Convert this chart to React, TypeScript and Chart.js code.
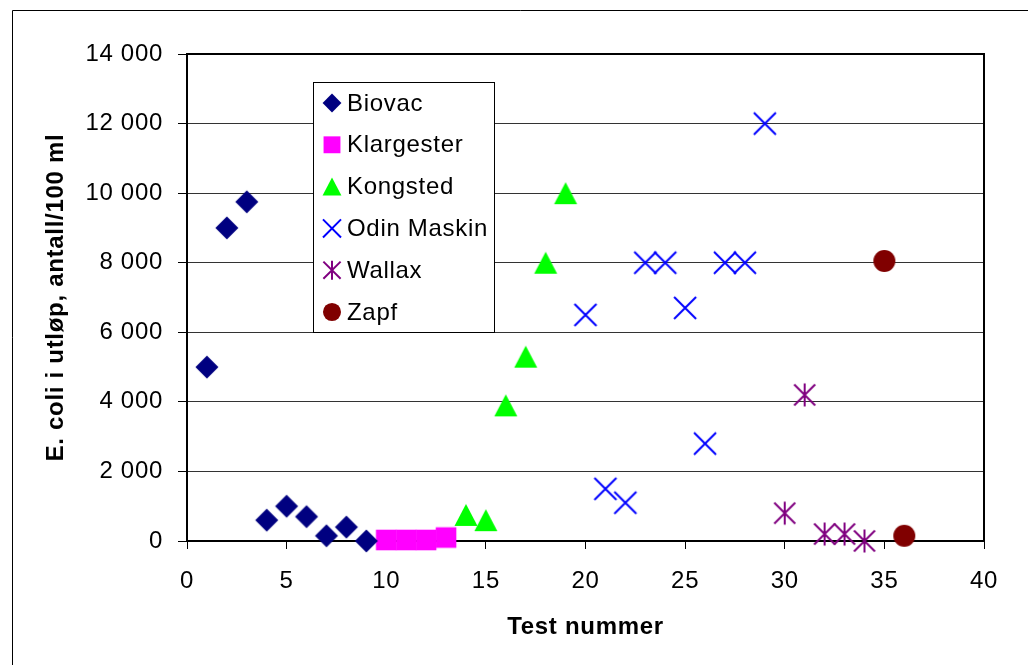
import React, { useEffect, useRef } from 'react';
import { Chart, registerables } from 'chart.js';

Chart.register(...registerables);

// ---- data ----
const seriesNames = ['Biovac', 'Klargester', 'Kongsted', 'Odin Maskin', 'Wallax', 'Zapf'];

const biovacX = [1, 2, 3, 4, 5, 6, 7, 8, 9];
const biovacY = [5000, 9000, 9750, 600, 1000, 700, 150, 400, 0];

const klargesterX = [10, 11, 12, 13];
const klargesterY = [30, 30, 30, 100];

const kongstedX = [14, 15, 16, 17, 18, 19];
const kongstedY = [750, 600, 3900, 5300, 8000, 10000];

const odinX = [20, 21, 22, 23, 24, 25, 26, 27, 28, 29];
const odinY = [6500, 1500, 1100, 8000, 8000, 6700, 2800, 8000, 8000, 12000];

const wallaxX = [30, 31, 32, 33, 34];
const wallaxY = [800, 4200, 200, 200, 0];

const zapfX = [35, 36];
const zapfY = [8050, 150];

const xAxisTitle = 'Test nummer';
const yAxisTitle = 'E. coli i utløp, antall/100 ml';
const xMin = 0, xMax = 40, xStep = 5;
const yMin = 0, yMax = 14000, yStep = 2000;

// ---- styles ----
const FONT = "'Liberation Sans', Arial, sans-serif";
const LETTER_SPACING = '0.7px';
type Shape = 'diamond' | 'square' | 'triangle' | 'x' | 'asterisk' | 'circle';
const shapes: Shape[] = ['diamond', 'square', 'triangle', 'x', 'asterisk', 'circle'];
const colors = ['#000080', '#FF00FF', '#00FF00', '#0000FF', '#800080', '#800000'];

function drawShape(ctx: CanvasRenderingContext2D, shape: Shape, color: string, cx: number, cy: number, k: number) {
  ctx.save();
  ctx.fillStyle = color;
  ctx.strokeStyle = color;
  ctx.lineWidth = 2;
  ctx.beginPath();
  if (shape === 'diamond') {
    const h = 11.5 * k;
    ctx.moveTo(cx, cy - h);
    ctx.lineTo(cx + h, cy);
    ctx.lineTo(cx, cy + h);
    ctx.lineTo(cx - h, cy);
    ctx.closePath();
    ctx.fill();
  } else if (shape === 'square') {
    const h = 10.3 * k;
    ctx.rect(cx - h, cy - h, 2 * h, 2 * h);
    ctx.fill();
  } else if (shape === 'triangle') {
    const w = 11.5 * k, h = 11 * k;
    ctx.moveTo(cx, cy - h);
    ctx.lineTo(cx + w, cy + h);
    ctx.lineTo(cx - w, cy + h);
    ctx.closePath();
    ctx.fill();
  } else if (shape === 'x') {
    const h = 11 * k;
    ctx.moveTo(cx - h, cy - h);
    ctx.lineTo(cx + h, cy + h);
    ctx.moveTo(cx + h, cy - h);
    ctx.lineTo(cx - h, cy + h);
    ctx.stroke();
  } else if (shape === 'asterisk') {
    const h = 10.5 * k;
    ctx.moveTo(cx - h, cy - h);
    ctx.lineTo(cx + h, cy + h);
    ctx.moveTo(cx + h, cy - h);
    ctx.lineTo(cx - h, cy + h);
    ctx.moveTo(cx, cy - 11.5 * k);
    ctx.lineTo(cx, cy + 11.5 * k);
    ctx.stroke();
  } else {
    ctx.arc(cx, cy, 11 * k, 0, Math.PI * 2);
    ctx.fill();
  }
  ctx.restore();
}

function makeMarker(shape: Shape, color: string, k: number): HTMLCanvasElement {
  const c = document.createElement('canvas');
  c.width = 30;
  c.height = 30;
  const ctx = c.getContext('2d')!;
  drawShape(ctx, shape, color, 15, 15, k);
  return c;
}

function fmt(v: number): string {
  return String(v).replace(/\B(?=(\d{3})+(?!\d))/g, ' ');
}

function toPoints(xs: number[], ys: number[]) {
  return xs.map((x, i) => ({ x, y: ys[i] }));
}

const spacingPlugin = {
  id: 'spacing',
  beforeDraw(chart: any) {
    (chart.ctx as any).letterSpacing = LETTER_SPACING;
  },
};

const framePlugin = {
  id: 'frame',
  beforeDatasetsDraw(chart: any) {
    const { ctx, chartArea } = chart;
    ctx.save();
    ctx.strokeStyle = '#000';
    ctx.lineWidth = 2;
    ctx.beginPath();
    ctx.moveTo(chartArea.left, chartArea.top);
    ctx.lineTo(chartArea.right, chartArea.top);
    ctx.lineTo(chartArea.right, chartArea.bottom);
    ctx.stroke();
    ctx.lineWidth = 1;
    ctx.beginPath();
    ctx.moveTo(12.5, chart.height);
    ctx.lineTo(12.5, 10.5);
    ctx.lineTo(chart.width, 10.5);
    ctx.stroke();
    ctx.restore();
  },
};

const legendPlugin = {
  id: 'boxLegend',
  afterDraw(chart: any) {
    const ctx: CanvasRenderingContext2D = chart.ctx;
    const left = 313, top = 82, w = 182, h = 251;
    ctx.save();
    ctx.fillStyle = '#fff';
    ctx.fillRect(left, top, w, h);
    ctx.strokeStyle = '#000';
    ctx.lineWidth = 1;
    ctx.strokeRect(left + 0.5, top + 0.5, w - 1, h - 1);
    ctx.font = `24px ${FONT}`;
    (ctx as any).letterSpacing = LETTER_SPACING;
    ctx.textBaseline = 'middle';
    ctx.textAlign = 'left';
    chart.data.datasets.forEach((ds: any, i: number) => {
      const y = top + 21 + i * 41.8;
      drawShape(ctx, shapes[i], colors[i], left + 19, y, 0.82);
      ctx.fillStyle = '#000';
      ctx.fillText(ds.label, left + 34, y + 1);
    });
    ctx.restore();
  },
};

export default function App() {
  const ref = useRef<HTMLCanvasElement | null>(null);

  useEffect(() => {
    if (!ref.current) return;
    const xs = [biovacX, klargesterX, kongstedX, odinX, wallaxX, zapfX];
    const ys = [biovacY, klargesterY, kongstedY, odinY, wallaxY, zapfY];
    const datasets = seriesNames.map((name, i) => ({
      label: name,
      data: toPoints(xs[i], ys[i]),
      pointStyle: makeMarker(shapes[i], colors[i], 1),
      pointRadius: 11,
      backgroundColor: colors[i],
      borderColor: colors[i],
      showLine: false,
      clip: false as any,
    }));

    const chart = new Chart(ref.current, {
      type: 'scatter',
      data: { datasets },
      options: {
        animation: false,
        responsive: false,
        devicePixelRatio: 1,
        layout: { padding: { left: 0, top: 54, right: 44, bottom: 0 } },
        plugins: {
          legend: { display: false },
          tooltip: { enabled: false },
        },
        scales: {
          x: {
            type: 'linear',
            min: xMin,
            max: xMax,
            ticks: {
              stepSize: xStep,
              color: '#000',
              font: { family: FONT, size: 24 },
              padding: 18,
              maxRotation: 0,
            },
            grid: { drawOnChartArea: false, drawTicks: true, tickLength: 8, tickColor: '#000', lineWidth: 1 },
            border: { color: '#000', width: 2 },
            title: {
              display: true,
              text: xAxisTitle,
              color: '#000',
              font: { family: FONT, size: 24, weight: 'bold' },
              padding: { top: 0, bottom: 23 },
            },
            afterFit(scale: any) {
              scale.height = 124;
            },
          },
          y: {
            type: 'linear',
            min: yMin,
            max: yMax,
            ticks: {
              stepSize: yStep,
              color: '#000',
              font: { family: FONT, size: 24 },
              padding: 15,
              callback: (v: any) => fmt(Number(v)),
            },
            grid: { color: '#333', lineWidth: 1, drawTicks: true, tickLength: 9, tickColor: '#000' },
            border: { color: '#000', width: 2 },
            title: {
              display: true,
              text: yAxisTitle,
              color: '#000',
              font: { family: FONT, size: 24, weight: 'bold' },
              padding: { top: 42, bottom: 0 },
            },
            afterFit(scale: any) {
              scale.width = 187;
            },
          },
        },
      },
      plugins: [spacingPlugin, framePlugin, legendPlugin],
    });
    return () => chart.destroy();
  }, []);

  return (
    <div style={{ position: 'absolute', left: 0, top: 0, width: 1028, height: 665, background: '#fff' }}>
      <canvas ref={ref} width={1028} height={665} style={{ display: 'block' }} />
    </div>
  );
}
